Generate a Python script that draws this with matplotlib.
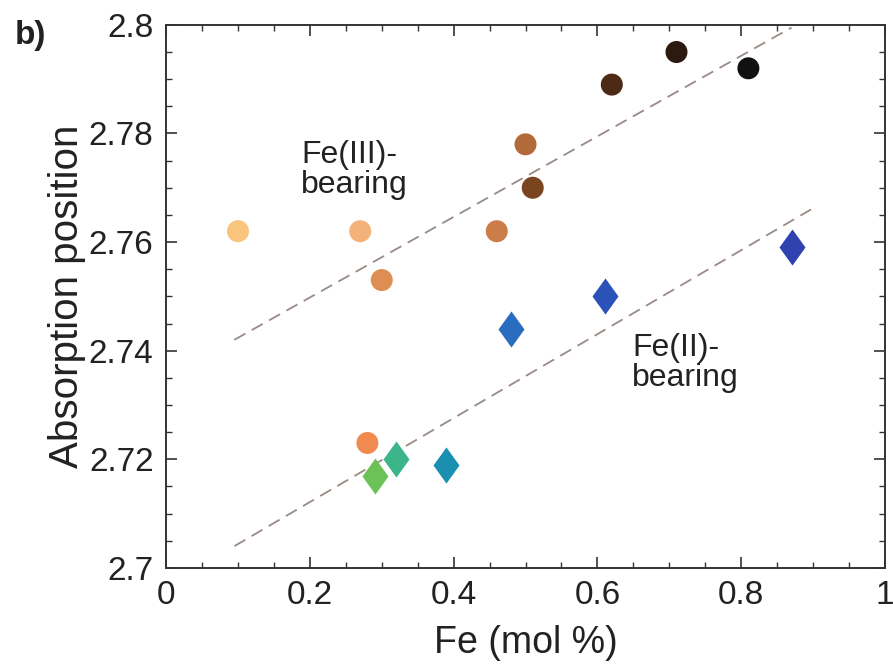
import numpy as np
import matplotlib
matplotlib.use("Agg")
import matplotlib.pyplot as plt
from matplotlib.ticker import MultipleLocator

plt.rcParams["font.family"] = ["Liberation Sans", "DejaVu Sans"]

# Fe(III)-bearing samples (circles)
fe3_x = [0.10, 0.27, 0.30, 0.28, 0.46, 0.50, 0.51, 0.62, 0.71, 0.81]
fe3_y = [2.762, 2.762, 2.753, 2.723, 2.762, 2.778, 2.770, 2.789, 2.795, 2.792]
fe3_colors = ["#f9c47c", "#f4b27a", "#de8e52", "#f08a50", "#cc7c48",
              "#b36a3a", "#7a4420", "#4c2a16", "#2a1a10", "#111111"]

# Fe(II)-bearing samples (diamonds)
fe2_x = [0.29, 0.32, 0.39, 0.48, 0.61, 0.87]
fe2_y = [2.717, 2.720, 2.719, 2.744, 2.750, 2.759]
fe2_colors = ["#6cc257", "#3db58a", "#1a8fb0", "#2a6cc0", "#2a52b8", "#3042b0"]

# dashed trend lines (end points)
fit3_x = [0.095, 0.87]
fit3_y = [2.742, 2.7995]
fit2_x = [0.095, 0.897]
fit2_y = [2.704, 2.766]

xticks = [0, 0.2, 0.4, 0.6, 0.8, 1]
xticklabels = ["0", "0.2", "0.4", "0.6", "0.8", "1"]
yticks = [2.7, 2.72, 2.74, 2.76, 2.78, 2.8]
yticklabels = ["2.7", "2.72", "2.74", "2.76", "2.78", "2.8"]

# wider diamond than matplotlib's thin 'd'
diamond = [(0, 1), (0.72, 0), (0, -1), (-0.72, 0), (0, 1)]

fig = plt.figure(figsize=(8.93, 6.72), dpi=100)
ax = fig.add_axes([0.186, 0.155, 0.805, 0.808])

ax.plot(fit3_x, fit3_y, ls=(0, (7, 4)), color="#9a8a86", lw=1.3)
ax.plot(fit2_x, fit2_y, ls=(0, (7, 4)), color="#9a8a86", lw=1.3)

ax.scatter(fe3_x, fe3_y, s=220, c=fe3_colors, marker="o", zorder=3)
for x, y, c in zip(fe2_x, fe2_y, fe2_colors):
    ax.plot(x, y, marker=diamond, ms=26, color=c, mec="none", zorder=3)

ax.text(0.188, 2.7788, "Fe(III)-\nbearing", fontsize=23, va="top", ha="left",
        linespacing=1.0, color="#222222")
ax.text(0.648, 2.7432, "Fe(II)-\nbearing", fontsize=23, va="top", ha="left",
        linespacing=1.0, color="#222222")

ax.set_xlim(0, 1)
ax.set_ylim(2.7, 2.8)
ax.set_xticks(xticks)
ax.set_xticklabels(xticklabels)
ax.set_yticks(yticks)
ax.set_yticklabels(yticklabels)
ax.xaxis.set_minor_locator(MultipleLocator(0.05))
ax.yaxis.set_minor_locator(MultipleLocator(0.005))
ax.tick_params(which="both", direction="in", top=True, right=True,
               color="#333333", labelsize=24, labelcolor="#222222")
ax.tick_params(which="major", length=8, width=1.2, pad=9)
ax.tick_params(which="minor", length=4, width=1.0)
for s in ax.spines.values():
    s.set_color("#333333")
    s.set_linewidth(1.4)

ax.set_xlabel("Fe (mol %)", fontsize=27, color="#222222", labelpad=10)
ax.set_ylabel("Absorption position", fontsize=29, color="#222222", labelpad=2)

fig.text(0.017, 0.935, "b)", fontsize=24, fontweight="bold", color="#222222")

fig.savefig("out.png", dpi=100)
